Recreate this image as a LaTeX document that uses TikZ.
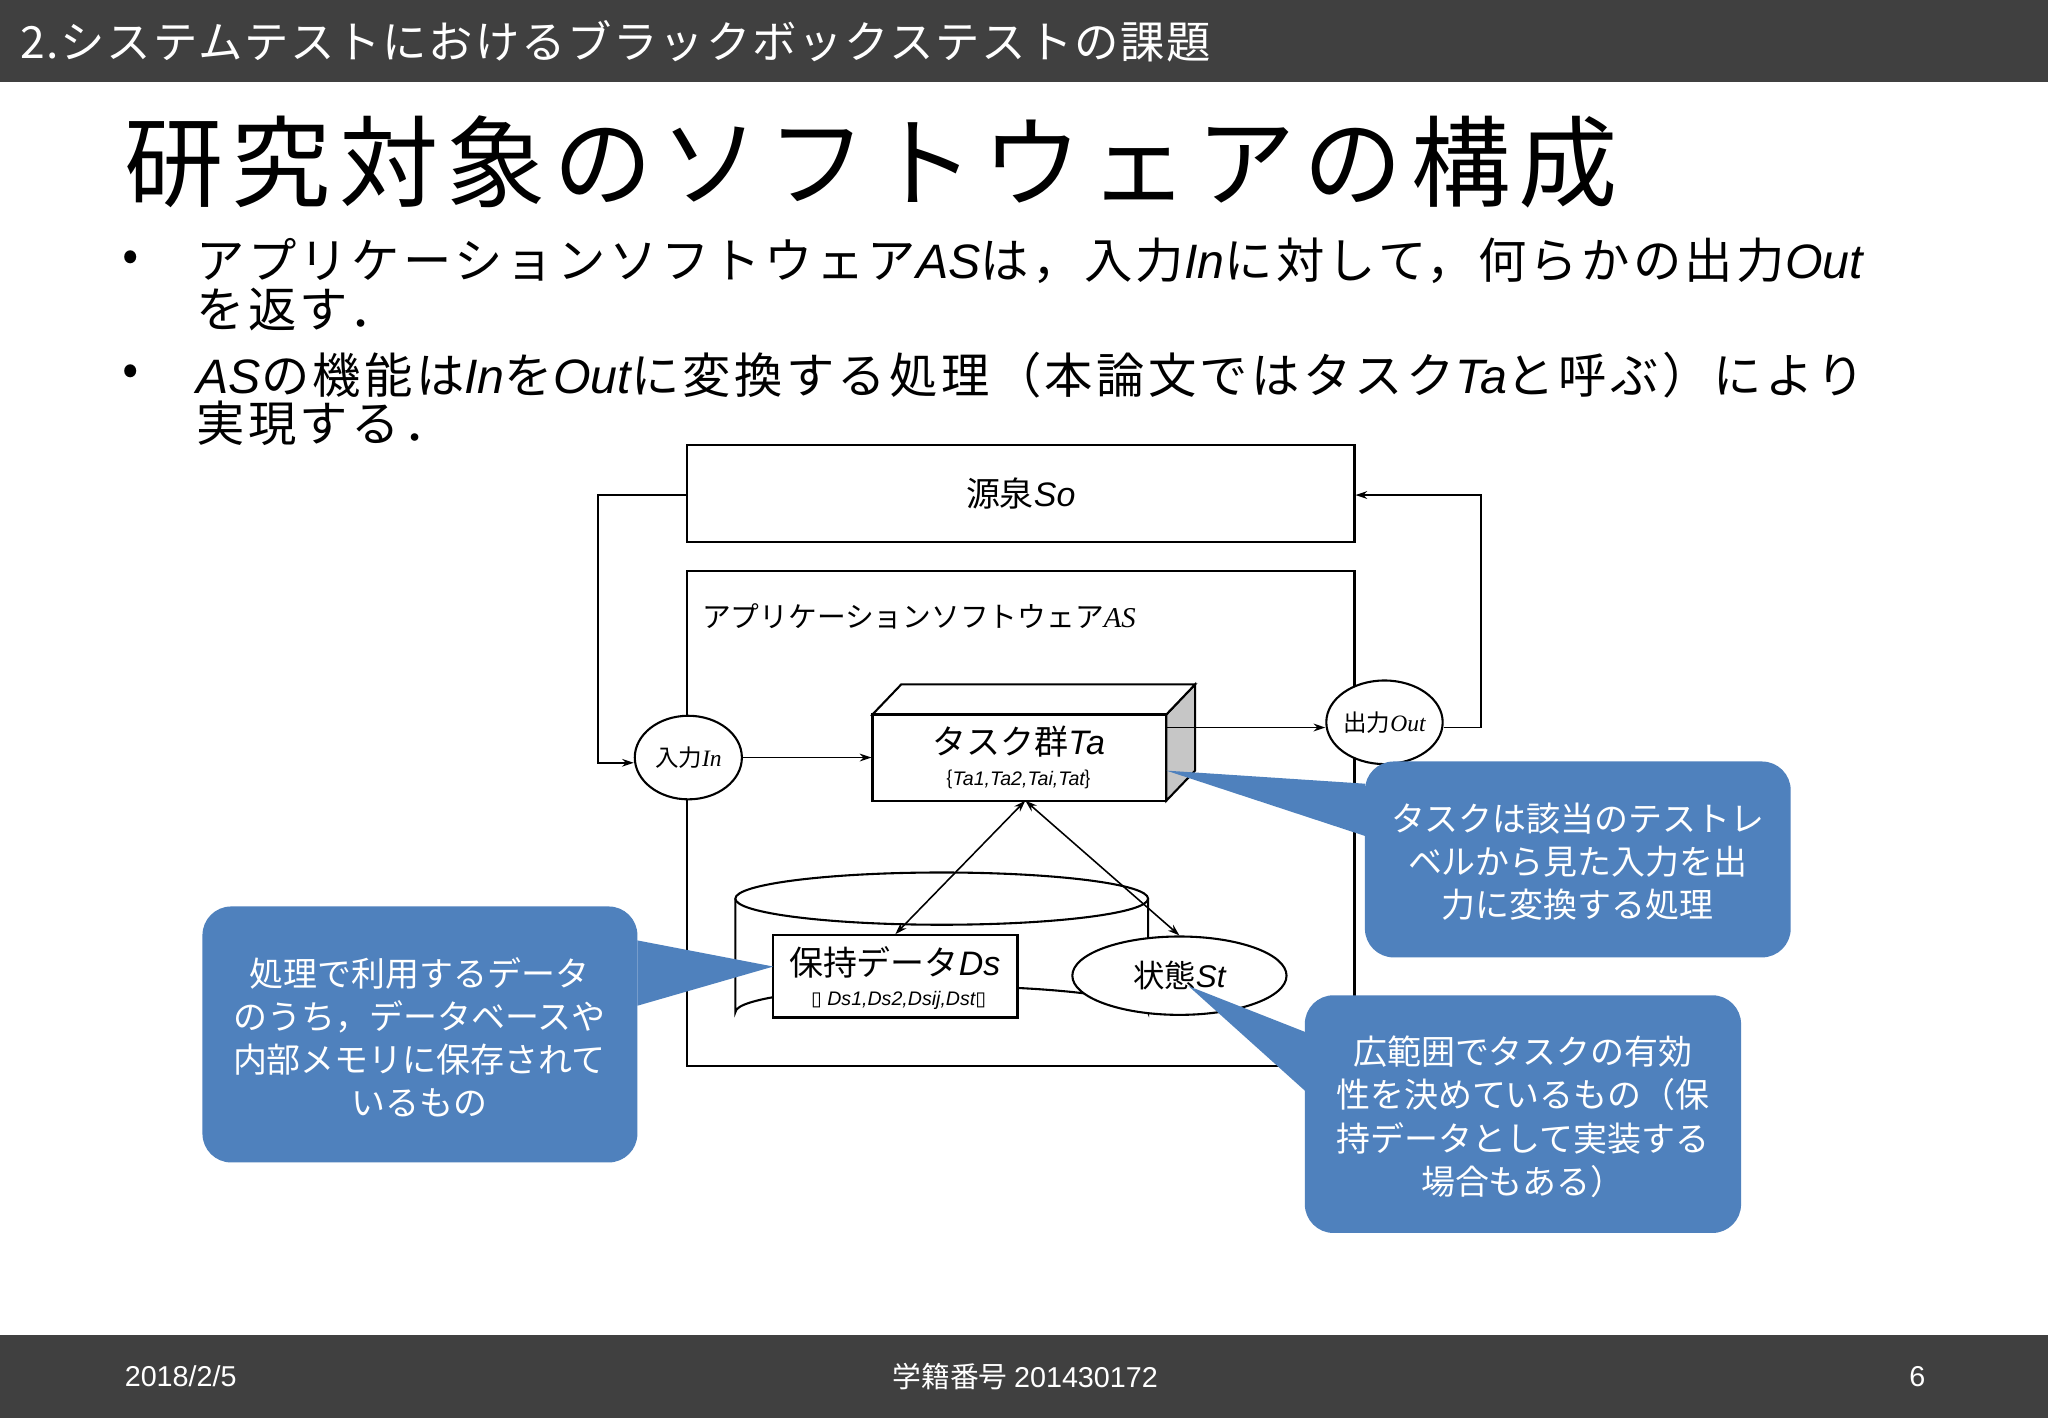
\documentclass[tikz,border=0pt]{standalone}
\usepackage{fontspec}
\setmainfont{Noto Sans CJK JP}
\newfontfamily\lat{Liberation Sans}
\newfontfamily\ser{Liberation Serif}
\newfontfamily\djvu{DejaVu Sans}
\newfontfamily\jsa[LetterSpace=4]{Noto Sans CJK JP}
\newfontfamily\jsb[LetterSpace=7]{Noto Sans CJK JP}
\newfontfamily\jsc[LetterSpace=8]{Noto Sans CJK JP}
\newcommand\li[1]{{\lat\itshape #1}}
\newcommand\si[1]{{\ser\itshape #1}}
\usetikzlibrary{shapes.geometric,arrows.meta}
\definecolor{bar}{HTML}{404040}
\definecolor{callb}{HTML}{4F81BD}
\tikzset{
 ln/.style={line width=1.6pt},
 ar/.style={line width=1.2pt,-{Stealth[length=9pt,width=6pt]}},
 dar/.style={line width=1.2pt,{Stealth[length=9pt,width=6pt]}-{Stealth[length=9pt,width=6pt]}},
 callbox/.style={fill=callb,draw=none,rounded corners=22pt},
 ctext/.style={text=white,align=center,font=\fontsize{26}{33}\selectfont},
}
\begin{document}
\begin{tikzpicture}[x=1pt,y=-1pt]
\useasboundingbox (0,0) rectangle (1568,1086);
\fill[white] (0,0) rectangle (1568,1086);
% bars
\fill[bar] (0,0) rectangle (1568,63);
\node[anchor=west,text=white,font=\jsa\fontsize{34}{34}\selectfont] (hdr) at (12,32) {2.システムテストにおけるブラックボックステストの課題};
\fill[bar] (0,1022) rectangle (1568,1086);
\node[anchor=west,text=white,font=\lat\fontsize{22}{22}\selectfont] (date) at (92,1054) {2018/2/5};
\node[text=white,font=\fontsize{22}{22}\selectfont] (sid) at (785,1054) {学籍番号 {\lat 201430172}};
\node[text=white,font=\lat\fontsize{22}{22}\selectfont] (pg) at (1468,1054) {6};
% title
\node[anchor=west,font=\jsc\fontsize{76}{76}\selectfont] (title) at (92,124) {研究対象のソフトウェアの構成};
% bullets
\begin{scope}[every node/.style={anchor=west,font=\jsb\fontsize{37}{38}\selectfont}]
\node (b1) at (90,200) {•};
\node (l1) at (147,200) {アプリケーションソフトウェア\li{AS}は，入力\li{In}に対して，何らかの出力\li{Out}};
\node (l2) at (147,237) {を返す．};
\node (b2) at (90,287) {•};
\node (l3) at (147,287) {\li{AS}の機能は\li{In}を\li{Out}に変換する処理（本論文ではタスク\li{Ta}と呼ぶ）により};
\node (l4) at (147,324) {実現する．};
\end{scope}
% source
\node[draw,ln,minimum width=511pt,minimum height=74pt,font=\fontsize{26}{26}\selectfont] (so) at (781.5,378) {源泉\li{So}};
% AS box
\draw[ln] (526,437) rectangle (1037,816);
\node[anchor=west,font=\fontsize{22}{22}\selectfont] (aslab) at (534,472) {アプリケーションソフトウェア\si{AS}};
% task 3D
\fill[gray!45,draw=black,ln] (893,547) -- (915,524) -- (915,590) -- (893,613) -- cycle;
\draw[ln,fill=white] (668,547) -- (690,524) -- (915,524) -- (893,547) -- cycle;
\node[draw,ln,fill=white,minimum width=225pt,minimum height=66pt,inner sep=0pt] (ta) at (780.5,580) {};
\node[font=\fontsize{26}{26}\selectfont] (talab) at (780,568) {タスク群\li{Ta}};
\node[font=\fontsize{15}{15}\selectfont] (taset) at (780,597) {\{\li{Ta1,Ta2,Tai,Tat}\}};
% ellipses
\node[draw,ln,fill=white,ellipse,minimum width=82pt,minimum height=64pt,inner sep=0pt,font=\fontsize{18}{18}\selectfont] (in) at (527,580) {入力\si{In}};
\node[draw,ln,fill=white,ellipse,minimum width=82pt,minimum height=64pt,inner sep=0pt,font=\fontsize{18}{18}\selectfont] (out) at (1060,553) {出力\si{Out}};
% cylinder
\draw[ln,fill=white] (563,688) -- (563,775) arc[start angle=180,end angle=360,x radius=158,y radius=20] -- (879,688);
\draw[ln,fill=white] (721,688) ellipse[x radius=158,y radius=20];
\node[draw,ln,fill=white,minimum width=187pt,minimum height=63pt,inner sep=0pt] (ds) at (685.5,747.5) {};
\node[font=\fontsize{26}{26}\selectfont] (dslab) at (685,737) {保持データ\li{Ds}};
\node[font=\fontsize{15}{15}\selectfont] (dsset) at (688,766) {{\djvu\char"25AF}\li{ Ds1,Ds2,Dsij,Dst}{\djvu\char"25AF}};
\node[draw,ln,fill=white,ellipse,minimum width=164pt,minimum height=60pt,inner sep=0pt,font=\fontsize{24}{24}\selectfont] (st) at (903,747) {状態\li{St}};
% connectors
\coordinate (c1) at (458,379); \coordinate (c2) at (458,584);
\draw[ar] (so.west |- 0,379) -- (c1) -- (c2) -- (in.west |- 0,584);
\draw[ar] (in.east) -- (ta.west);
\draw[ar] (893,557) -- (out.west |- 0,557);
\coordinate (c3) at (1134,557); \coordinate (c4) at (1134,379);
\draw[ar] (out.east |- 0,557) -- (c3) -- (c4) -- (so.east |- 0,379);
\coordinate (tb) at (785,613);
\draw[dar] (tb) -- (ds.north);
\draw[dar] (tb) -- (st.north);
% callouts
\fill[callb] (1045,600) -- (893,590) -- (1045,640) -- cycle;
\node[callbox,minimum width=326pt,minimum height=150pt] (cr) at (1208,658) {};
\node[ctext] (crt) at (1208,660) {タスクは該当のテストレ\\ベルから見た入力を出\\力に変換する処理};
\fill[callb] (488,720) -- (592,740) -- (488,770) -- cycle;
\node[callbox,minimum width=333pt,minimum height=196pt] (cl) at (321.5,792) {};
\node[ctext] (clt) at (321,794) {処理で利用するデータ\\のうち，データベースや\\内部メモリに保存されて\\いるもの};
\fill[callb] (999,790) -- (910,755) -- (999,835) -- cycle;
\node[callbox,minimum width=334pt,minimum height=182pt] (cb) at (1166,853) {};
\node[ctext] (cbt) at (1166,855) {広範囲でタスクの有効\\性を決めているもの（保\\持データとして実装する\\場合もある）};
\end{tikzpicture}
\end{document}
